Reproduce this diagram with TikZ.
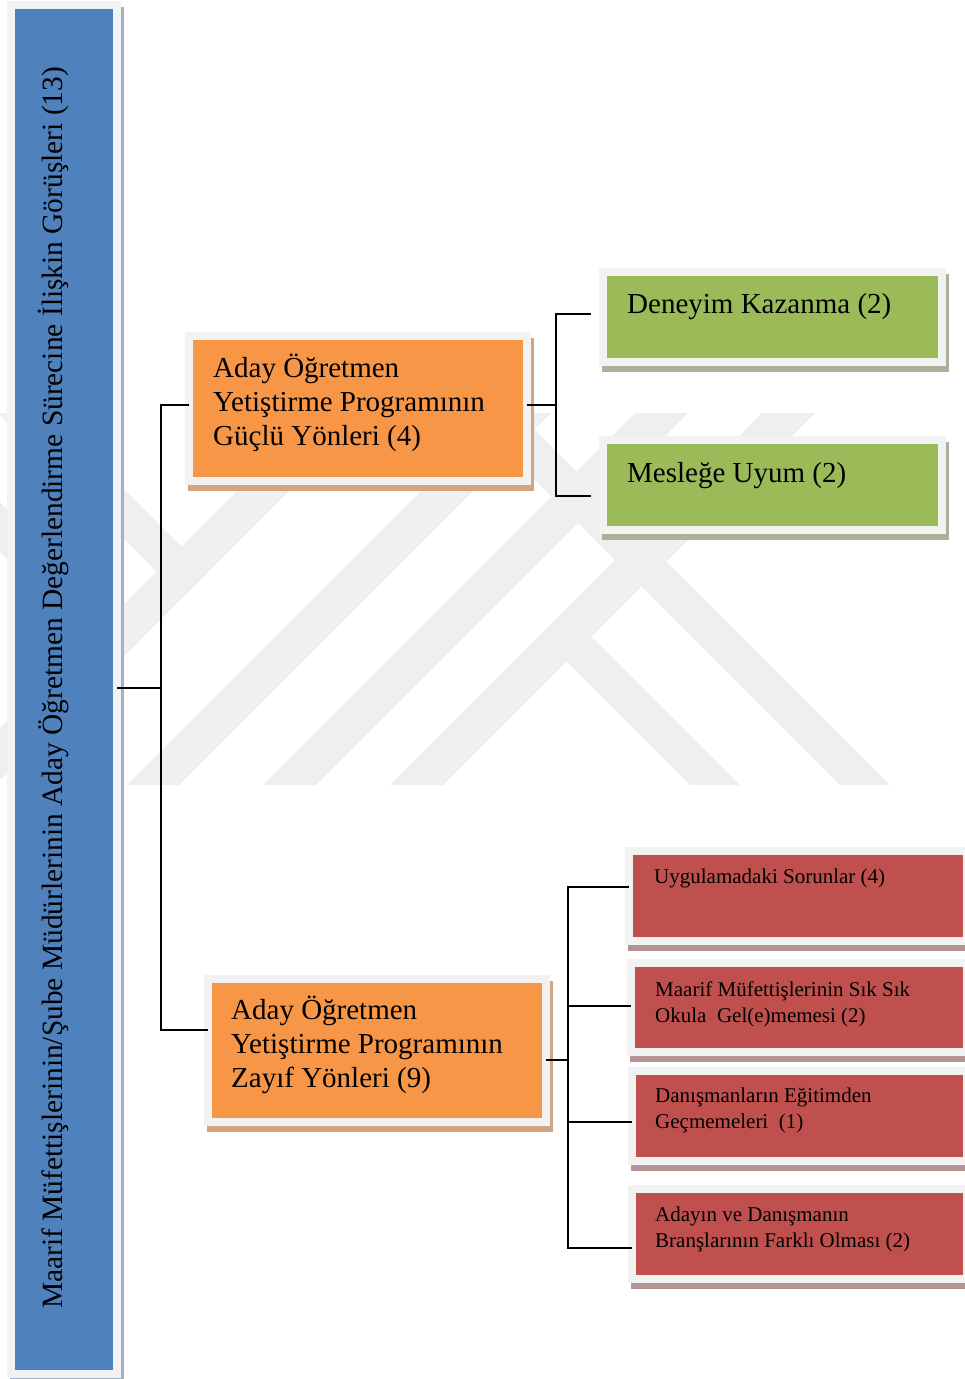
\documentclass[tikz,border=0pt]{standalone}
\usepackage{fontspec}
\setmainfont{Liberation Serif}
\definecolor{frameC}{HTML}{F2F2F2}
\definecolor{blueC}{HTML}{4F81BD}
\definecolor{blueSh}{HTML}{A3B1C6}
\definecolor{orangeC}{HTML}{F79646}
\definecolor{orangeSh}{HTML}{CFA584}
\definecolor{greenC}{HTML}{9BBB59}
\definecolor{greenSh}{HTML}{A9B39A}
\definecolor{redC}{HTML}{C0504D}
\definecolor{redSh}{HTML}{B39393}
\definecolor{wmC}{HTML}{EFEFEF}
\begin{document}
\begin{tikzpicture}[x=1pt,y=-1pt,
  box/.style={rectangle, inner sep=0pt, outer sep=0pt, draw=frameC, line width=8pt},
  shade/.style={preaction={draw=#1, fill=#1, line width=8pt,
      transform canvas={shift={(3pt,-6pt)}}}},
  conn/.style={draw=black, line width=2pt},
  lblbig/.style={font=\fontsize{29}{34}\selectfont, align=left, inner sep=0pt, anchor=base west},
  lblsmall/.style={font=\fontsize{21}{25.5}\selectfont, align=left, inner sep=0pt, anchor=base west}]
\useasboundingbox (0,0) rectangle (965,1379);

% faint background emblem made of diagonal bands
\begin{scope}
  \clip (0,413) rectangle (965,785);
  \fill[wmC] (-57,785) -- (-5,785) -- (367,413) -- (315,413) -- cycle;
  \fill[wmC] (-2,413) -- (48,413) -- (207.5,572.5) -- (182.5,597.5) -- cycle;
  \fill[wmC] (-139,413) -- (-89,413) -- (139,641) -- (114,666) -- cycle;
  \fill[wmC] (127,785) -- (179,785) -- (551,413) -- (499,413) -- cycle;
  \fill[wmC] (263,785) -- (316,785) -- (688,413) -- (635,413) -- cycle;
  \fill[wmC] (390,785) -- (443,785) -- (815,413) -- (762,413) -- cycle;
  \fill[wmC] (566.5,661.5) -- (591.5,636.5) -- (740,785) -- (690,785) -- cycle;
  \fill[wmC] (468,413) -- (518,413) -- (890,785) -- (840,785) -- cycle;
\end{scope}

% boxes
\node[box, fill=blueC, shade=blueSh, minimum width=106pt, minimum height=1369pt] (root) at (64,689.5) {};
\node[box, fill=orangeC, shade=orangeSh, minimum width=338pt, minimum height=145pt] (o1) at (358,408.5) {};
\node[box, fill=orangeC, shade=orangeSh, minimum width=338pt, minimum height=143pt] (o2) at (377,1050.5) {};
\node[box, fill=greenC, shade=greenSh, minimum width=339pt, minimum height=90pt] (g1) at (772.5,317) {};
\node[box, fill=greenC, shade=greenSh, minimum width=339pt, minimum height=90pt] (g2) at (772.5,485) {};
\node[box, fill=redC, shade=redSh, minimum width=338pt, minimum height=90pt] (r1) at (798,896) {};
\node[box, fill=redC, shade=redSh, minimum width=336pt, minimum height=89pt] (r2) at (799,1007.5) {};
\node[box, fill=redC, shade=redSh, minimum width=335pt, minimum height=90pt] (r3) at (799.5,1116) {};
\node[box, fill=redC, shade=redSh, minimum width=335pt, minimum height=90pt] (r4) at (799.5,1234) {};

% labels (multi-line labels are placed by the baseline of their last line)
\node[rotate=90, anchor=base west, inner sep=0pt, font=\fontsize{29.4}{34}\selectfont] (troot) at (62,1309)
  {Maarif Müfettişlerinin/Şube Müdürlerinin Aday Öğretmen Değerlendirme Sürecine İlişkin Görüşleri (13)};
\node[lblbig] (to1) at (213,445) {Aday Öğretmen\\Yetiştirme Programının\\Güçlü Yönleri (4)};
\node[lblbig] (to2) at (231,1087) {Aday Öğretmen\\Yetiştirme Programının\\Zayıf Yönleri (9)};
\node[lblbig] (tg1) at (627,313) {Deneyim Kazanma (2)};
\node[lblbig] (tg2) at (627,482) {Mesleğe Uyum (2)};
\node[lblsmall] (tr1) at (654,883) {Uygulamadaki Sorunlar (4)};
\node[lblsmall] (tr2) at (655,1022) {Maarif Müfettişlerinin Sık Sık\\Okula\hspace{.5em}Gel(e)memesi (2)};
\node[lblsmall] (tr3) at (655,1128) {Danışmanların Eğitimden\\Geçmemeleri\hspace{.5em}(1)};
\node[lblsmall] (tr4) at (655,1247) {Adayın ve Danışmanın\\Branşlarının Farklı Olması (2)};

% connectors
\coordinate (j0) at (161,688);
\coordinate (b1) at (556,404.5);
\coordinate (b2) at (568,1060);
\draw[conn] (root.east |- j0) -- (j0);
\draw[conn] ([yshift=4pt]o1.west) -| (j0) |- ([yshift=20.5pt]o2.west);
\draw[conn] ([yshift=4pt]o1.east) -- (b1);
\draw[conn, shorten >=12pt] (b1) |- ([yshift=3pt]g1.west);
\draw[conn, shorten >=12pt] (b1) |- ([yshift=-11pt]g2.west);
\draw[conn] ([yshift=-9.5pt]o2.east) -- (b2);
\draw[conn] (b2) |- ([yshift=9pt]r1.west);
\draw[conn] (b2) |- ([yshift=1.5pt]r2.west);
\draw[conn] (b2) |- ([yshift=-6pt]r3.west);
\draw[conn] (b2) |- ([yshift=-14pt]r4.west);
\end{tikzpicture}
\end{document}
